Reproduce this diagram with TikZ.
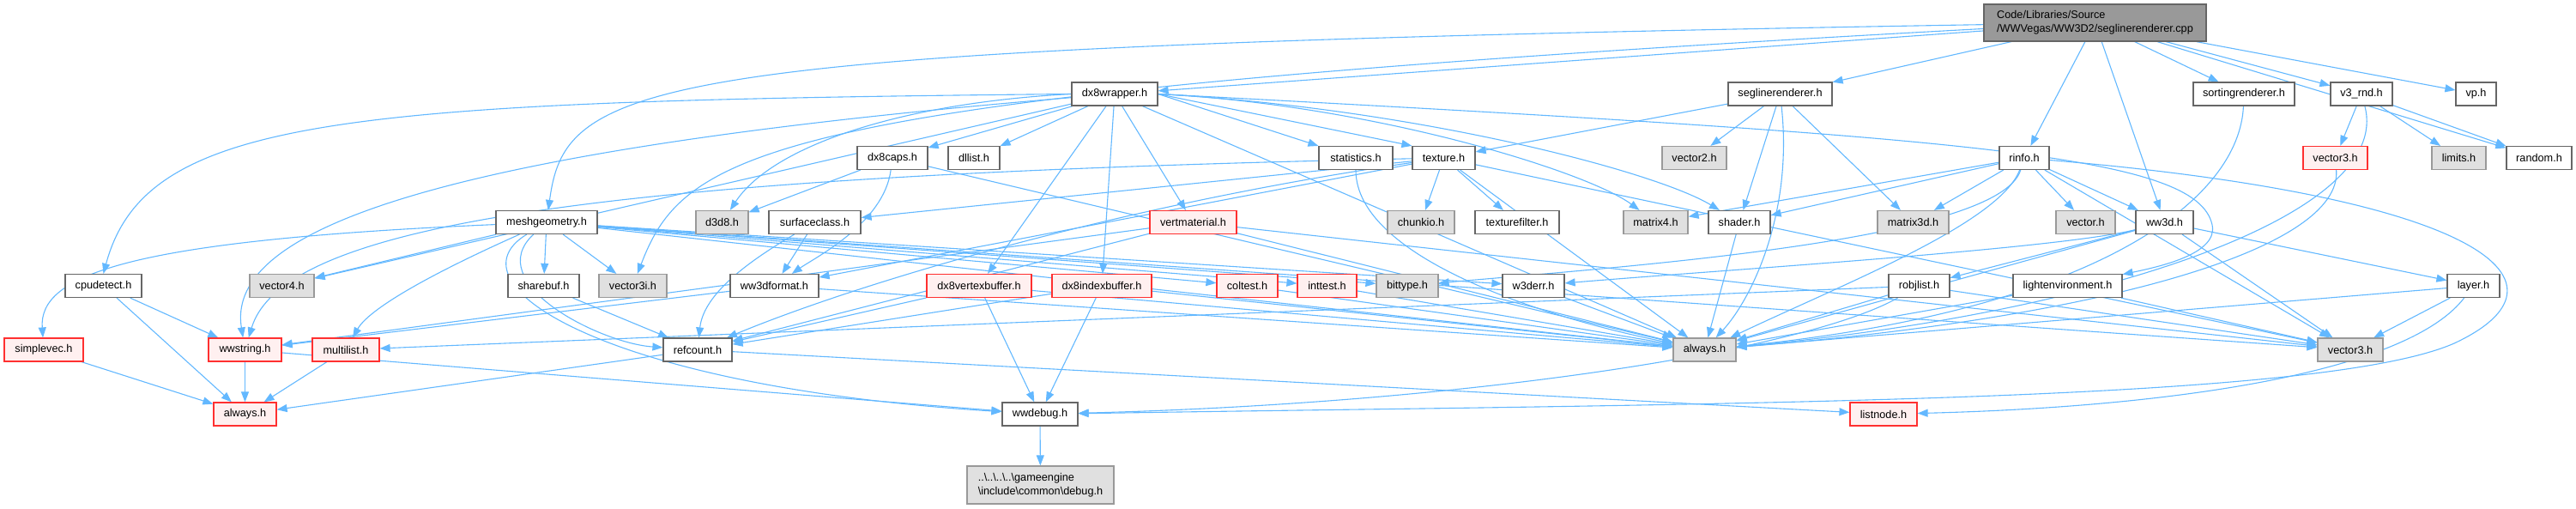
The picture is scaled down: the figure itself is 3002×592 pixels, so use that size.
\documentclass[tikz,border=0pt]{standalone}
\usepackage{fontspec}
\setmainfont{Liberation Sans}
\usetikzlibrary{arrows.meta}
\definecolor{edgec}{HTML}{63B8FF}
\definecolor{wbord}{HTML}{666666}
\definecolor{gfill}{HTML}{E0E0E0}
\definecolor{gbord}{HTML}{999999}
\definecolor{rfill}{HTML}{FFF0F0}
\definecolor{rbord}{HTML}{FF3030}
\definecolor{rootfill}{HTML}{999999}
\newcommand{\nodefont}{\fontsize{12.7pt}{16pt}\selectfont}
\pgfdeclarelayer{bg}
\pgfsetlayers{bg,main}
\tikzset{
 nb/.style={rectangle, inner sep=0pt, minimum height=27pt, line width=1.2pt, font=\nodefont, text=black},
 wb/.style={nb, draw=wbord, fill=white},
 gb/.style={nb, draw=gbord, fill=gfill},
 rb/.style={nb, draw=rbord, fill=rfill},
 dep/.style={draw=edgec, line width=1.1pt, -{Triangle[length=12pt,width=9pt]}},
}
\begin{document}
\begin{tikzpicture}[x=1pt,y=-1pt]
\useasboundingbox (0,0) rectangle (3002,592);
% row 0
\node[nb, draw=wbord, fill=rootfill, minimum width=259pt, minimum height=43pt, align=left] (root) at (2441.5,26.5) {Code/Libraries/Source\\/WWVegas/WW3D2/seglinerenderer.cpp};
% row 1
\node[wb, minimum width=100pt] (dx8wrapper) at (1299,109.5) {dx8wrapper.h};
\node[wb, minimum width=121pt] (seglr) at (2074.5,109.5) {seglinerenderer.h};
\node[wb, minimum width=118pt] (sortr) at (2615,109.5) {sortingrenderer.h};
\node[wb, minimum width=72pt] (v3rnd) at (2752,109.5) {v3\_rnd.h};
\node[wb, minimum width=47pt] (vp) at (2885.5,109.5) {vp.h};
% row 2
\node[wb, minimum width=82pt] (dx8caps) at (1040,184) {dx8caps.h};
\node[wb, minimum width=60pt] (dllist) at (1135,184) {dllist.h};
\node[wb, minimum width=86pt] (statistics) at (1580,184) {statistics.h};
\node[wb, minimum width=73pt] (texture) at (1682.5,184) {texture.h};
\node[gb, minimum width=75pt] (vector2) at (1974.5,184) {vector2.h};
\node[wb, minimum width=58pt] (rinfo) at (2359,184) {rinfo.h};
\node[rb, minimum width=75pt] (vector3r) at (2721.5,184) {vector3.h};
\node[gb, minimum width=63pt] (limits) at (2865.5,184) {limits.h};
\node[wb, minimum width=76pt] (random) at (2959,184) {random.h};
% row 3
\node[wb, minimum width=118pt] (meshgeom) at (637,259) {meshgeometry.h};
\node[gb, minimum width=61pt] (d3d8) at (841.5,259) {d3d8.h};
\node[wb, minimum width=107pt] (surfclass) at (949.5,259) {surfaceclass.h};
\node[rb, minimum width=101pt] (vertmat) at (1390.5,259) {vertmaterial.h};
\node[gb, minimum width=78pt] (chunkio) at (1656,259) {chunkio.h};
\node[wb, minimum width=98pt] (texfilter) at (1768,259) {texturefilter.h};
\node[gb, minimum width=75pt] (matrix4) at (1929.5,259) {matrix4.h};
\node[wb, minimum width=72pt] (shader) at (2027,259) {shader.h};
\node[gb, minimum width=83pt] (matrix3d) at (2229.5,259) {matrix3d.h};
\node[gb, minimum width=69pt] (vectorh) at (2430.5,259) {vector.h};
\node[wb, minimum width=67pt] (ww3d) at (2522.5,259) {ww3d.h};
% row 4
\node[wb, minimum width=89pt] (cpudetect) at (120.5,333) {cpudetect.h};
\node[gb, minimum width=75pt] (vector4) at (328.5,333) {vector4.h};
\node[wb, minimum width=83pt] (sharebuf) at (633.5,333) {sharebuf.h};
\node[gb, minimum width=79pt] (vector3i) at (737.5,333) {vector3i.h};
\node[wb, minimum width=103pt] (ww3dformat) at (902.5,333) {ww3dformat.h};
\node[rb, minimum width=122pt] (dx8vb) at (1141,333) {dx8vertexbuffer.h};
\node[rb, minimum width=116pt] (dx8ib) at (1284,333) {dx8indexbuffer.h};
\node[rb, minimum width=71pt] (coltest) at (1453.5,333) {coltest.h};
\node[rb, minimum width=69pt] (inttest) at (1546.5,333) {inttest.h};
\node[gb, minimum width=72pt] (bittype) at (1640,333) {bittype.h};
\node[wb, minimum width=72pt] (w3derr) at (1787,333) {w3derr.h};
\node[wb, minimum width=71pt] (robjlist) at (2236.5,333) {robjlist.h};
\node[wb, minimum width=127pt] (lightenv) at (2409.5,333) {lightenvironment.h};
\node[wb, minimum width=61pt] (layer) at (2882.5,333) {layer.h};
% row 5
\node[rb, minimum width=92pt] (simplevec) at (51,407.5) {simplevec.h};
\node[rb, minimum width=85pt] (wwstring) at (285.5,407.5) {wwstring.h};
\node[rb, minimum width=78pt] (multilist) at (403,407.5) {multilist.h};
\node[wb, minimum width=80pt] (refcount) at (813,407.5) {refcount.h};
\node[gb, minimum width=73pt] (alwaysg) at (1986.5,407.5) {always.h};
\node[gb, minimum width=76pt] (vector3g) at (2739,407.5) {vector3.h};
% row 6
\node[rb, minimum width=73pt] (alwaysr) at (285.5,482.5) {always.h};
\node[wb, minimum width=88pt] (wwdebug) at (1212,482.5) {wwdebug.h};
\node[rb, minimum width=78pt] (listnode) at (2195,482.5) {listnode.h};
% row 7
\node[gb, minimum width=171pt, minimum height=44pt, align=left] (debug) at (1212.5,565) {..\textbackslash..\textbackslash..\textbackslash..\textbackslash gameengine\\\textbackslash include\textbackslash common\textbackslash debug.h};

\begin{pgfonlayer}{bg}
% straight connectors
\foreach \a/\b in {
 root/dx8wrapper, root/seglr, root/sortr, root/v3rnd, root/vp, root/random, root/rinfo, root/ww3d,
 seglr/texture, seglr/vector2, seglr/shader, seglr/matrix3d,
 v3rnd/vector3r, v3rnd/limits, v3rnd/random,
 dx8wrapper/dx8caps, dx8wrapper/dllist, dx8wrapper/vertmat,
 dx8wrapper/dx8vb, dx8wrapper/dx8ib,
 dx8wrapper/vector4, dx8wrapper/alwaysg,
 dx8caps/d3d8, dx8caps/alwaysg,
 texture/surfclass, texture/chunkio, texture/texfilter, texture/ww3dformat, texture/alwaysg, texture/vector3g,
 surfclass/ww3dformat,
 vertmat/refcount, vertmat/wwstring, vertmat/alwaysg, vertmat/vector3g,
 rinfo/matrix4, rinfo/shader, rinfo/matrix3d, rinfo/vectorh, rinfo/ww3d, rinfo/vector3g,
 ww3d/robjlist, ww3d/layer, ww3d/vector3g, ww3d/alwaysg,
 meshgeom/vector4, meshgeom/sharebuf, meshgeom/vector3i, meshgeom/coltest, meshgeom/inttest,
 meshgeom/bittype, meshgeom/w3derr, meshgeom/alwaysg, meshgeom/vector3g,
 sharebuf/refcount, ww3dformat/wwstring, ww3dformat/alwaysg,
 dx8vb/wwdebug, dx8vb/refcount, dx8vb/alwaysg, dx8ib/wwdebug, dx8ib/refcount, dx8ib/alwaysg,
 coltest/alwaysg, inttest/alwaysg, w3derr/alwaysg, shader/alwaysg,
 robjlist/multilist, robjlist/alwaysg, robjlist/vector3g,
 lightenv/alwaysg, lightenv/vector3g, layer/vector3g, layer/alwaysg,
 cpudetect/alwaysr, cpudetect/wwstring, simplevec/alwaysr, wwstring/alwaysr, multilist/alwaysr,
 wwstring/wwdebug, refcount/alwaysr, refcount/listnode, wwdebug/debug}
 \draw[dep] (\a) -- (\b);
% connectors leaving dx8wrapper to the right
\draw[dep] (dx8wrapper.east) -- (statistics);
\draw[dep] (dx8wrapper.east) -- (texture.north west);
\draw[dep] (dx8wrapper.east) .. controls (1600,122) and (1850,200) .. (matrix4);
\draw[dep] (dx8wrapper.east) .. controls (1650,126) and (1930,200) .. (shader);
\draw[dep] (dx8wrapper.east) .. controls (2300,160) and (2560,180) .. (2578,262) .. controls (2585,295) and (2520,310) .. (lightenv);
% curved connectors
\draw[dep] (dx8wrapper.west) .. controls (1050,120) and (900,170) .. (d3d8);
\draw[dep] (root) .. controls (750,55) and (660,90) .. (meshgeom);
\draw[dep] (root) .. controls (900,110) and (800,170) .. (vector3i);
\draw[dep] (dx8wrapper.west) .. controls (400,118) and (170,135) .. (cpudetect.north);
\draw[dep] (dx8wrapper) .. controls (450,180) and (265,280) .. (wwstring);
\draw[dep] (rinfo) .. controls (2900,230) and (3010,330) .. (2860,400) .. controls (2700,470) and (2000,470) .. (wwdebug);
\draw[dep] (layer) .. controls (2800,440) and (2500,475) .. (listnode);
\draw[dep] (robjlist) .. controls (2100,410) and (1700,470) .. (wwdebug);
\draw[dep] (meshgeom) .. controls (520,330) and (700,450) .. (wwdebug);
\draw[dep] (meshgeom) .. controls (560,330) and (700,400) .. (refcount);
\draw[dep] (meshgeom) .. controls (150,280) and (45,320) .. (simplevec);
\draw[dep] (meshgeom) .. controls (500,320) and (430,360) .. (multilist);
\draw[dep] (texture) .. controls (700,205) and (330,260) .. (wwstring);
\draw[dep] (texture) .. controls (1300,240) and (1000,330) .. (refcount);
\draw[dep] (surfclass) .. controls (880,300) and (820,340) .. (refcount);
\draw[dep] (dx8caps) .. controls (1030,260) and (950,300) .. (ww3dformat);
\draw[dep] (statistics) .. controls (1580,300) and (1800,370) .. (alwaysg);
\draw[dep] (seglr) .. controls (2090,250) and (2040,350) .. (alwaysg);
\draw[dep] (sortr) .. controls (2610,230) and (2450,360) .. (alwaysg);
\draw[dep] (v3rnd) .. controls (2790,250) and (2450,365) .. (alwaysg);
\draw[dep] (vector3r) .. controls (2730,290) and (2450,370) .. (alwaysg);
\draw[dep] (rinfo) .. controls (2330,260) and (2150,330) .. (alwaysg);
\draw[dep] (rinfo) .. controls (2330,280) and (1900,310) .. (bittype);
\draw[dep] (ww3d) .. controls (2400,290) and (2000,315) .. (w3derr);
\end{pgfonlayer}
\end{tikzpicture}
\end{document}
